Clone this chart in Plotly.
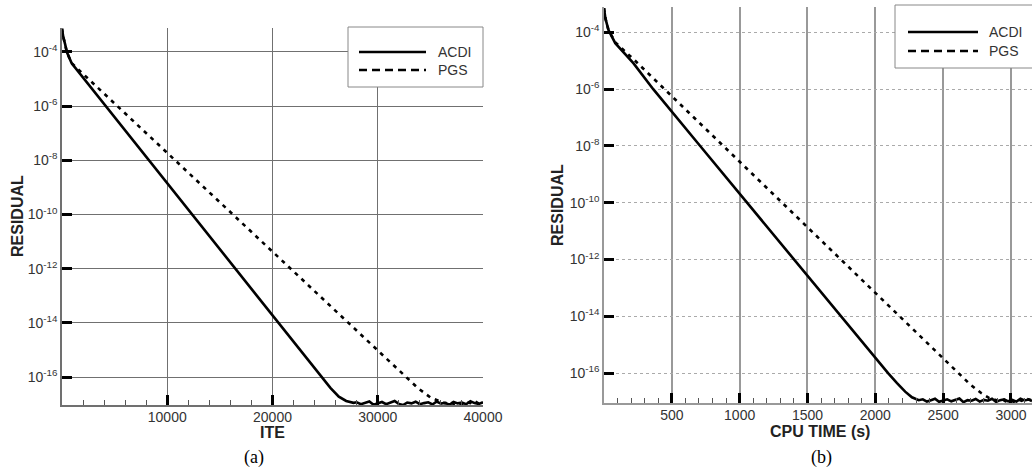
import plotly.graph_objects as go

W, H = 1032, 470

# ---------------- data (log10 of residual) ----------------
# panel (a): residual vs iteration
acdi_ite = [0, 120, 310, 450, 920, 2110, 4160, 8260, 12360, 16500, 20600, 24700, 25500, 26300, 27000, 27700,
            28000, 28400, 28800, 29200, 29600, 30000, 30400, 30800, 31200, 31600, 32000, 32400, 32800, 33200,
            33600, 34000, 34400, 34800, 35200, 35600, 36000, 36400, 36800, 37200, 37600, 38000, 38400, 38800,
            39200, 39600, 40000]
acdi_ite_exp = [-3.15, -3.45, -3.74, -4.0, -4.42, -5.0, -6.0, -8.0, -10.0, -12.0, -14.0, -16.0, -16.4, -16.72, -16.88, -16.95,
                -16.93, -17.0, -16.96, -16.9, -17.02, -16.97, -16.92, -17.0, -16.95, -16.88, -16.99, -17.03, -16.94, -16.97,
                -16.91, -17.0, -16.96, -16.93, -17.01, -16.9, -16.98, -16.95, -17.02, -16.92, -16.97, -16.94, -17.0, -16.89,
                -16.96, -16.99, -16.93]
pgs_ite = [0, 120, 310, 450, 920, 2510, 5250, 10730, 16220, 21700, 27180, 32670, 33800, 35000, 36000,
           36400, 36800, 37200, 37600, 38000, 38400, 38800, 39200, 39600, 40000]
pgs_ite_exp = [-3.15, -3.45, -3.74, -4.0, -4.42, -5.0, -6.0, -8.0, -10.0, -12.0, -14.0, -16.0, -16.4, -16.75, -16.92,
               -16.97, -16.9, -16.99, -16.94, -17.01, -16.91, -16.96, -16.88, -16.98, -16.93]

# panel (b): residual vs CPU time
acdi_cpu = [0, 10, 33, 83, 218, 363, 709, 1055, 1400, 1747, 2094, 2160, 2220, 2270, 2320,
            2350, 2380, 2410, 2440, 2470, 2500, 2530, 2560, 2590, 2620, 2650, 2680, 2710, 2740, 2770, 2800,
            2830, 2860, 2890, 2920, 2950, 2980, 3010, 3040, 3070, 3100, 3130, 3155]
acdi_cpu_exp = [-3.15, -3.5, -3.92, -4.38, -5.09, -6.0, -8.0, -10.0, -12.0, -14.0, -16.0, -16.35, -16.65, -16.85, -16.95,
                -16.92, -17.0, -16.95, -16.9, -17.01, -16.96, -16.92, -16.99, -16.94, -16.89, -17.02, -16.95, -16.97,
                -16.91, -17.0, -16.94, -16.97, -16.9, -17.01, -16.95, -16.92, -16.99, -16.94, -17.0, -16.9, -16.96,
                -16.93, -16.98]
pgs_cpu = [0, 10, 33, 83, 230, 446, 880, 1313, 1746, 2179, 2612, 2700, 2780, 2840, 2900,
           2930, 2960, 2990, 3020, 3050, 3080, 3110, 3155]
pgs_cpu_exp = [-3.15, -3.5, -3.92, -4.35, -5.0, -6.0, -8.0, -10.0, -12.0, -14.0, -16.0, -16.4, -16.7, -16.88, -16.96,
               -16.91, -16.99, -16.94, -17.01, -16.92, -16.97, -16.9, -16.95]

ytick_exps = [-4, -6, -8, -10, -12, -14, -16]
xticks_a = [10000, 20000, 30000, 40000]
xticks_b = [500, 1000, 1500, 2000, 2500, 3000]
series_names = ["ACDI", "PGS"]

# ---------------- figure ----------------
FONT = "Liberation Sans, Arial, sans-serif"
tickfont = dict(family=FONT, size=14, color="#333333")


def res(exps):
    return [10 ** e for e in exps]


fig = go.Figure()
fig.add_trace(go.Scatter(x=acdi_ite, y=res(acdi_ite_exp), mode="lines", name=series_names[0],
                         line=dict(color="black", width=2.6), xaxis="x", yaxis="y"))
fig.add_trace(go.Scatter(x=pgs_ite, y=res(pgs_ite_exp), mode="lines", name=series_names[1],
                         line=dict(color="black", width=2.6, dash="4px,5px"), xaxis="x", yaxis="y"))
fig.add_trace(go.Scatter(x=acdi_cpu, y=res(acdi_cpu_exp), mode="lines", name=series_names[0],
                         line=dict(color="black", width=2.6), xaxis="x2", yaxis="y2"))
fig.add_trace(go.Scatter(x=pgs_cpu, y=res(pgs_cpu_exp), mode="lines", name=series_names[1],
                         line=dict(color="black", width=2.6, dash="4px,5px"), xaxis="x2", yaxis="y2"))

ytickvals = [10 ** e for e in ytick_exps]
yticktext = ["10<sup>%d</sup>" % e for e in ytick_exps]


def px(x):
    return x / W


def py(y):
    return 1 - y / H


common_x = dict(showline=True, ticks="inside", ticklen=10, tickwidth=2.5, tickcolor="black",
                zeroline=False, tickfont=tickfont, showgrid=True, ticklabelstandoff=-2)
common_y = dict(type="log", showline=True, ticks="inside", ticklen=10, tickwidth=2.5, tickcolor="black",
                zeroline=False, tickfont=tickfont, showgrid=True, tickvals=ytickvals, ticktext=yticktext)

fig.update_layout(
    width=W, height=H, autosize=False, margin=dict(l=0, r=0, t=0, b=0, autoexpand=False),
    paper_bgcolor="white", plot_bgcolor="white", showlegend=False,
    xaxis=dict(domain=[px(62), px(483)], range=[0, 40000], tickvals=xticks_a,
               ticktext=[str(v) for v in xticks_a], linecolor="#707070", linewidth=1.5,
               gridcolor="#707070", gridwidth=1, anchor="y",
               minor=dict(tickmode="linear", tick0=0, dtick=2000, ticks="inside", ticklen=5,
                          tickwidth=1, tickcolor="#555555", showgrid=False),
               **common_x),
    yaxis=dict(domain=[py(405), py(28)], range=[-17.03, -3.12], linecolor="#707070", linewidth=1.5,
               gridcolor="#707070", gridwidth=1, anchor="x", **common_y),
    xaxis2=dict(domain=[px(604), 1.0], range=[0, 3155], tickvals=xticks_b,
                ticktext=[str(v) for v in xticks_b], linecolor="#999999", linewidth=1.5,
                gridcolor="#999999", gridwidth=1.5, anchor="y2",
                minor=dict(tickmode="linear", tick0=0, dtick=100, ticks="inside", ticklen=5,
                           tickwidth=1, tickcolor="#555555", showgrid=False),
                **common_x),
    yaxis2=dict(domain=[py(403), py(7)], range=[-17.05, -3.106], linecolor="#999999", linewidth=1.5,
                gridcolor="#aaaaaa", gridwidth=1, griddash="dot", anchor="x2", **common_y),
)

shapes = []
annots = []


def legend(x0, x1, y0, y1, lx0, lx1, ly1, ly2, tx):
    shapes.append(dict(type="rect", xref="paper", yref="paper", x0=px(x0), x1=px(x1), y0=py(y1), y1=py(y0),
                       line=dict(color="#888888", width=1), fillcolor="white", layer="above"))
    shapes.append(dict(type="line", xref="paper", yref="paper", x0=px(lx0), x1=px(lx1), y0=py(ly1), y1=py(ly1),
                       line=dict(color="black", width=2.5), layer="above"))
    shapes.append(dict(type="line", xref="paper", yref="paper", x0=px(lx0), x1=px(lx1), y0=py(ly2), y1=py(ly2),
                       line=dict(color="black", width=2.5, dash="8px,5px"), layer="above"))
    for name, ly in zip(series_names, [ly1, ly2]):
        annots.append(dict(x=px(tx), y=py(ly), xref="paper", yref="paper", text=name, showarrow=False,
                           xanchor="left", yanchor="middle", font=dict(family=FONT, size=14, color="#333333")))


legend(348, 483, 27, 87, 359, 426, 52, 70, 436)
legend(895, 1040, 5, 68, 908, 978, 32, 51, 987)

titlefont = dict(family=FONT, size=16, color="#222222", weight="bold")
annots += [
    dict(x=px(17), y=py(216), xref="paper", yref="paper", text="<b>RESIDUAL</b>", textangle=-90,
         showarrow=False, font=titlefont, xanchor="center", yanchor="middle"),
    dict(x=px(557), y=py(205), xref="paper", yref="paper", text="<b>RESIDUAL</b>", textangle=-90,
         showarrow=False, font=titlefont, xanchor="center", yanchor="middle"),
    dict(x=px(272), y=py(432), xref="paper", yref="paper", text="<b>ITE</b>",
         showarrow=False, font=titlefont, xanchor="center", yanchor="middle"),
    dict(x=px(820), y=py(431), xref="paper", yref="paper", text="<b>CPU TIME (s)</b>",
         showarrow=False, font=titlefont, xanchor="center", yanchor="middle"),
    dict(x=px(254), y=py(457), xref="paper", yref="paper", text="(a)",
         showarrow=False, font=dict(family="Liberation Serif, Times New Roman, serif", size=18, color="black"),
         xanchor="center", yanchor="middle"),
    dict(x=px(821), y=py(457), xref="paper", yref="paper", text="(b)",
         showarrow=False, font=dict(family="Liberation Serif, Times New Roman, serif", size=18, color="black"),
         xanchor="center", yanchor="middle"),
]

fig.update_layout(shapes=shapes, annotations=annots)
fig.write_html(
    "out.html",
    config={"displayModeBar": False, "responsive": False},
    post_script=("document.documentElement.style.margin='0';document.documentElement.style.overflow='hidden';"
                 "document.body.style.margin='0';document.body.style.padding='0';"
                 "document.body.style.overflow='hidden';"
                 "var gd=document.getElementById('{plot_id}');"
                 "Plotly.relayout(gd,{width:%d,height:%d});" % (W, H)),
)
